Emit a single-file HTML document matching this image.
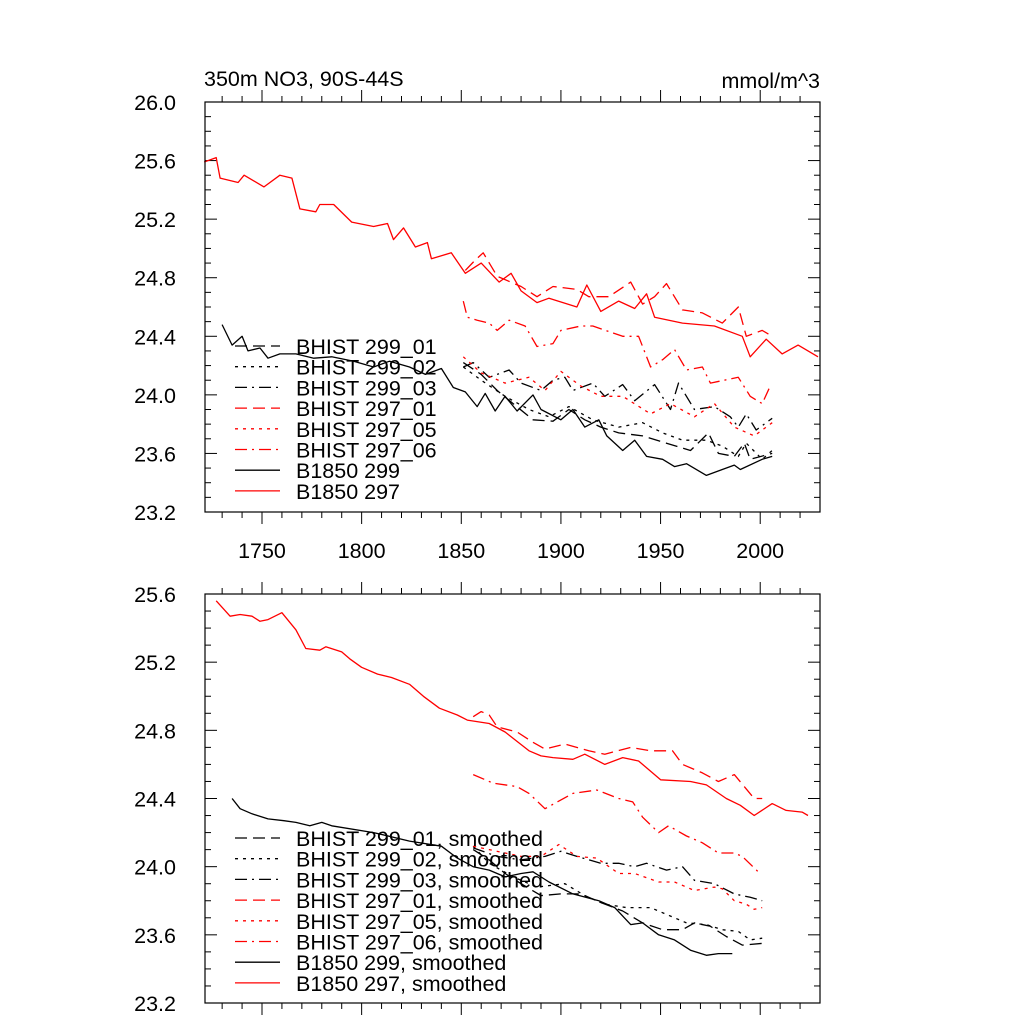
<!DOCTYPE html>
<html><head><meta charset="utf-8">
<style>
html,body{margin:0;padding:0;background:#fff;}
svg{display:block;font-family:"Liberation Sans",sans-serif;}
</style></head>
<body>
<svg id="chart" width="1024" height="1024" viewBox="0 0 1024 1024" xmlns="http://www.w3.org/2000/svg">
<text x="204" y="86" font-size="21.5">350m NO3, 90S-44S</text>
<text x="820" y="88" font-size="21.5" text-anchor="end">mmol/m^3</text>
</svg>
<script>
// ---------- data: top panel (raw) ----------
const b297Years=[1721,1727,1729,1738,1741,1751,1759,1765,1769,1777,1779,1786,1795,1806,1813,1816,1821,1827,1833,1835,1845,1852,1860,1869,1875,1880,1888,1894,1908,1913,1920,1929,1937,1943,1947,1961,1977,1991,1995,2003,2011,2019,2029];
const b297Vals=[25.59,25.62,25.48,25.45,25.50,25.42,25.50,25.48,25.27,25.25,25.30,25.30,25.18,25.15,25.17,25.06,25.14,25.01,25.04,24.93,24.97,24.83,24.90,24.77,24.83,24.71,24.63,24.66,24.60,24.75,24.57,24.64,24.59,24.69,24.53,24.49,24.47,24.40,24.26,24.38,24.28,24.34,24.26];
const b299Years=[1730,1735,1740,1743,1749,1753,1759,1767,1776,1785,1796,1806,1814,1824,1832,1840,1846,1852,1858,1862,1867,1872,1878,1886,1890,1900,1906,1912,1919,1923,1931,1937,1943,1951,1957,1963,1973,1981,1987,1990,2001,2006];
const b299Vals=[24.48,24.34,24.40,24.30,24.32,24.25,24.28,24.28,24.25,24.26,24.23,24.19,24.23,24.19,24.14,24.18,24.05,24.02,23.92,24.01,23.89,23.99,23.89,24.00,23.90,23.83,23.90,23.78,23.83,23.72,23.62,23.69,23.58,23.56,23.51,23.53,23.45,23.49,23.52,23.49,23.56,23.58];
const h29901Years=[1851,1860,1868,1876,1886,1896,1904,1912,1920,1929,1941,1953,1965,1974,1979,1987,1992,1995,2006];
const h29901Vals=[24.22,24.14,24.03,23.94,23.83,23.82,23.90,23.83,23.78,23.74,23.72,23.67,23.62,23.74,23.60,23.58,23.67,23.56,23.60];
const h29902Years=[1851,1860,1872,1884,1894,1904,1916,1929,1941,1951,1961,1973,1981,1989,1993,2001,2006];
const h29902Vals=[24.19,24.10,23.99,23.90,23.85,23.92,23.83,23.78,23.81,23.74,23.69,23.69,23.65,23.58,23.67,23.56,23.62];
const h29903Years=[1851,1856,1864,1874,1880,1890,1896,1902,1906,1916,1922,1931,1937,1947,1955,1959,1967,1977,1985,1989,1993,1998,2006];
const h29903Vals=[24.19,24.22,24.12,24.17,24.08,24.03,24.10,24.12,24.03,24.08,23.99,24.07,23.96,24.07,23.90,24.08,23.90,23.92,23.85,23.78,23.87,23.76,23.84];
const h29701Years=[1852,1857,1861,1868,1880,1888,1896,1908,1914,1924,1935,1941,1947,1953,1961,1971,1981,1989,1993,2001,2006];
const h29701Vals=[24.85,24.92,24.97,24.81,24.74,24.67,24.74,24.72,24.67,24.67,24.77,24.62,24.67,24.76,24.58,24.56,24.49,24.60,24.40,24.44,24.40];
const h29705Years=[1851,1860,1872,1884,1892,1900,1910,1920,1931,1945,1955,1967,1977,1987,1997,2006];
const h29705Vals=[24.26,24.15,24.08,24.12,24.03,24.16,24.06,23.99,23.99,23.87,23.94,23.85,23.94,23.78,23.72,23.81];
const h29706Years=[1851,1853,1858,1864,1868,1874,1882,1888,1896,1900,1910,1916,1931,1939,1945,1951,1957,1963,1971,1975,1989,1995,2001,2005];
const h29706Vals=[24.64,24.53,24.51,24.49,24.44,24.51,24.47,24.33,24.35,24.44,24.47,24.47,24.40,24.40,24.19,24.24,24.31,24.17,24.19,24.08,24.12,23.99,23.94,24.06];
// ---------- data: bottom panel (smoothed) ----------
const s297Years=[1727,1734,1739,1745,1749,1753,1760,1767,1772,1779,1782,1790,1794,1800,1808,1815,1824,1831,1839,1848,1853,1864,1872,1884,1890,1896,1906,1912,1922,1931,1939,1950,1965,1973,1983,1990,1997,2006,2013,2021,2024];
const s297Vals=[25.56,25.47,25.48,25.47,25.44,25.45,25.49,25.39,25.28,25.27,25.29,25.26,25.22,25.17,25.13,25.11,25.07,25.00,24.93,24.89,24.86,24.84,24.79,24.68,24.65,24.64,24.63,24.66,24.60,24.64,24.62,24.51,24.50,24.48,24.40,24.36,24.30,24.37,24.33,24.32,24.30];
const s299Years=[1735,1739,1745,1753,1761,1767,1774,1780,1785,1806,1824,1840,1848,1856,1864,1872,1880,1886,1894,1906,1919,1927,1935,1941,1949,1957,1965,1973,1979,1986];
const s299Vals=[24.40,24.34,24.31,24.28,24.27,24.26,24.24,24.26,24.24,24.20,24.15,24.12,24.05,24.00,23.98,23.94,23.96,23.97,23.91,23.84,23.80,23.76,23.66,23.67,23.60,23.57,23.51,23.48,23.49,23.49];
const sh29901Years=[1856,1864,1872,1880,1890,1900,1910,1920,1931,1941,1951,1961,1967,1975,1983,1991,2001];
const sh29901Vals=[24.10,24.04,23.96,23.90,23.83,23.84,23.84,23.79,23.74,23.67,23.63,23.63,23.67,23.65,23.59,23.54,23.55];
const sh29902Years=[1856,1864,1876,1888,1902,1912,1922,1933,1945,1953,1963,1973,1981,1989,1995,2001];
const sh29902Vals=[24.12,24.02,23.94,23.88,23.90,23.83,23.78,23.76,23.76,23.72,23.67,23.66,23.63,23.62,23.57,23.58];
const sh29903Years=[1856,1868,1880,1892,1900,1908,1920,1929,1937,1943,1953,1961,1967,1977,1987,1995,2001];
const sh29903Vals=[24.11,24.06,24.04,24.06,24.09,24.06,24.02,24.02,24.00,24.02,23.98,24.00,23.92,23.90,23.84,23.82,23.80];
const sh29701Years=[1856,1860,1864,1868,1878,1886,1892,1902,1914,1922,1935,1945,1956,1961,1971,1979,1987,1997,2001];
const sh29701Vals=[24.88,24.91,24.89,24.82,24.79,24.73,24.69,24.72,24.68,24.66,24.70,24.68,24.68,24.60,24.55,24.50,24.54,24.40,24.40];
const sh29705Years=[1856,1864,1872,1880,1890,1899,1908,1918,1929,1937,1949,1957,1967,1977,1981,1987,1993,1997,2001];
const sh29705Vals=[24.12,24.10,24.08,24.06,24.06,24.13,24.06,24.05,23.96,23.96,23.91,23.91,23.86,23.88,23.87,23.80,23.78,23.75,23.76];
const sh29706Years=[1856,1866,1878,1884,1892,1906,1918,1929,1936,1941,1949,1954,1963,1971,1979,1987,1991,1999];
const sh29706Vals=[24.54,24.49,24.47,24.43,24.34,24.43,24.45,24.40,24.38,24.29,24.20,24.24,24.18,24.14,24.08,24.08,24.06,23.97];
// ---------- ticks ----------
const xTickLabels=[1750,1800,1850,1900,1950,2000];
const topYTicks=[23.2,23.6,24.0,24.4,24.8,25.2,25.6,26.0];
const botYTicks=[23.2,23.6,24.0,24.4,24.8,25.2,25.6];
const legendTop=["BHIST 299_01","BHIST 299_02","BHIST 299_03","BHIST 297_01","BHIST 297_05","BHIST 297_06","B1850 299","B1850 297"];
const legendBot=legendTop.map(s=>s+", smoothed");

const NS="http://www.w3.org/2000/svg";
const svg=document.getElementById('chart');
const X0=205,X1=820,YR0=1721.4,YR1=2030;
const FS=21.5;
function xs(yr){return X0+(yr-YR0)/(YR1-YR0)*(X1-X0);}
function mk(tag,attrs,parent){const e=document.createElementNS(NS,tag);for(const k in attrs)e.setAttribute(k,attrs[k]);(parent||svg).appendChild(e);return e;}

const styles=[
 {c:"#000",d:"12,6"},{c:"#000",d:"3,5"},{c:"#000",d:"12,5,2,5"},
 {c:"#f00",d:"12,6"},{c:"#f00",d:"3,5"},{c:"#f00",d:"12,5,2,5"},
 {c:"#000",d:""},{c:"#f00",d:""}];

function panel(name,top,bot,vmin,vmax,yticks,series,legend,legTop,showX){
  const g=mk('g',{});
  
  
  const ys=v=>bot-(v-vmin)/(vmax-vmin)*(bot-top);
  for(let yr=1730;yr<=2020;yr+=10){
    const major=(yr%50===0);const x=xs(yr);const L=major?12:6;
    const t1=mk('line',{x1:x,x2:x,y1:bot,y2:bot+L,stroke:"#000","stroke-width":1},g);
    
    
    const t2=mk('line',{x1:x,x2:x,y1:top,y2:top-L,stroke:"#000","stroke-width":1},g);
    
    
  }
  if(showX){xTickLabels.forEach(v=>{const t=mk('text',{x:xs(v),y:bot+46,"font-size":FS,"text-anchor":"middle"},g);t.textContent=v;
    
    });}
  for(let i=0;i<=Math.round((vmax-vmin)*10);i++){
    const v=vmin+i*0.1;const y=ys(v);const major=(i%4===0);const L=major?12:6;
    const a=mk('line',{x1:X0,x2:X0+L,y1:y,y2:y,stroke:"#000","stroke-width":1},g);
    
    
    const b=mk('line',{x1:X1,x2:X1-L,y1:y,y2:y,stroke:"#000","stroke-width":1},g);
    
    
  }
  yticks.forEach(v=>{const t=mk('text',{x:176,y:ys(v)+8,"font-size":FS,"text-anchor":"end"},g);t.textContent=v.toFixed(1);
    
    });
  series.forEach((s,i)=>{
    const pts=s[0].map((yr,j)=>xs(yr).toFixed(1)+","+ys(s[1][j]).toFixed(1)).join(" ");
    const p=mk('polyline',{points:pts,fill:"none",stroke:styles[i].c,"stroke-width":1.3,"stroke-dasharray":styles[i].d||"none","stroke-linejoin":"round"},g);
    
    
  });
  legend.forEach((lab,i)=>{
    const y=legTop+i*20.7;
    const l=mk('line',{x1:235,x2:280,y1:y,y2:y,stroke:styles[i].c,"stroke-width":1.3,"stroke-dasharray":styles[i].d||"none"},g);
    
    
    const t=mk('text',{x:296,y:y+8,"font-size":FS},g);t.textContent=lab;
    
    
  });
  const f=mk('rect',{x:X0,y:top,width:X1-X0,height:bot-top,fill:"none",stroke:"#000","stroke-width":1.2},g);
  
  
}
panel('top-panel-raw',102,512,23.2,26.0,topYTicks,
 [[h29901Years,h29901Vals],[h29902Years,h29902Vals],[h29903Years,h29903Vals],[h29701Years,h29701Vals],[h29705Years,h29705Vals],[h29706Years,h29706Vals],[b299Years,b299Vals],[b297Years,b297Vals]],
 legendTop,346,true);
panel('bottom-panel-smoothed',594,1003,23.2,25.6,botYTicks,
 [[sh29901Years,sh29901Vals],[sh29902Years,sh29902Vals],[sh29903Years,sh29903Vals],[sh29701Years,sh29701Vals],[sh29705Years,sh29705Vals],[sh29706Years,sh29706Vals],[s299Years,s299Vals],[s297Years,s297Vals]],
 legendBot,838,false);
</script>
</body></html>
